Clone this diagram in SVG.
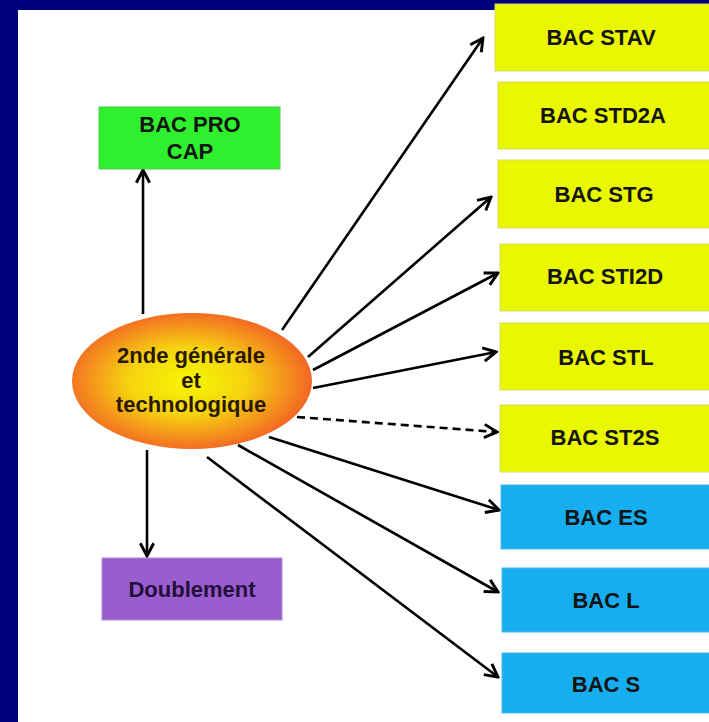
<svg xmlns="http://www.w3.org/2000/svg" width="709" height="722" viewBox="0 0 709 722">
<style>
.lbl{font-family:"Liberation Sans",Arial,sans-serif;font-weight:bold;font-size:22px;text-anchor:middle;fill:#141414}
.conn{stroke:#000;stroke-width:2.6;fill:none}
.yel{fill:#e9f700;stroke:#d6dc60;stroke-width:1}
.blu{fill:#17aef0;stroke:#4cb8e8;stroke-width:1}
</style>
<defs>
<marker id="arr" markerUnits="userSpaceOnUse" viewBox="0 0 14 14" refX="12.5" refY="7" markerWidth="17" markerHeight="17" orient="auto">
<path d="M2,1.5 L12.5,7 L2,12.5" fill="none" stroke="#000" stroke-width="2.4" stroke-linejoin="miter"/>
</marker>
<radialGradient id="eg" cx="0.48" cy="0.5" r="0.55">
<stop offset="0" stop-color="#f4f800"/>
<stop offset="0.45" stop-color="#f6d210"/>
<stop offset="1" stop-color="#f25a26"/>
</radialGradient>
</defs>
<rect x="0" y="0" width="709" height="722" fill="#00007f"/>
<rect x="18" y="10" width="691" height="712" fill="#ffffff"/>

<g id="connectors">
<line class="conn" x1="143" y1="314" x2="143" y2="170" marker-end="url(#arr)"/>
<line class="conn" x1="147" y1="450" x2="147" y2="556" marker-end="url(#arr)"/>
<line class="conn" x1="282" y1="330" x2="483" y2="38" marker-end="url(#arr)"/>
<line class="conn" x1="308" y1="357" x2="491" y2="197" marker-end="url(#arr)"/>
<line class="conn" x1="313" y1="370" x2="498" y2="273" marker-end="url(#arr)"/>
<line class="conn" x1="313" y1="388" x2="496" y2="352" marker-end="url(#arr)"/>
<line class="conn" x1="297" y1="417" x2="497" y2="432" stroke-dasharray="8,5" marker-end="url(#arr)"/>
<line class="conn" x1="269" y1="437" x2="499" y2="510" marker-end="url(#arr)"/>
<line class="conn" x1="238" y1="445" x2="498" y2="592" marker-end="url(#arr)"/>
<line class="conn" x1="207" y1="457" x2="498" y2="677" marker-end="url(#arr)"/>
</g>

<g id="center">
<ellipse cx="192" cy="381" rx="120" ry="68" fill="url(#eg)"/>
<text class="lbl" x="191" y="363" style="fill:#2a1800">2nde générale</text>
<text class="lbl" x="191" y="388" style="fill:#2a1800">et</text>
<text class="lbl" x="191" y="412" style="fill:#2a1800">technologique</text>
</g>

<g id="bacpro">
<rect x="99" y="107" width="181" height="62" fill="#2ef02e" stroke="#55c855" stroke-width="1"/>
<text class="lbl" x="190" y="132">BAC PRO</text>
<text class="lbl" x="190" y="159">CAP</text>
</g>

<g id="doublement">
<rect x="102" y="558" width="180" height="62" fill="#9a5ccf" stroke="#b08ad6" stroke-width="1"/>
<text class="lbl" x="192" y="597" style="fill:#22103a">Doublement</text>
</g>

<g id="stav">
<rect class="yel" x="495" y="4" width="216" height="67"/>
<text class="lbl" x="601" y="45">BAC STAV</text>
</g>
<g id="std2a">
<rect class="yel" x="498" y="82" width="213" height="67"/>
<text class="lbl" x="603" y="123">BAC STD2A</text>
</g>
<g id="stg">
<rect class="yel" x="498" y="160" width="213" height="68"/>
<text class="lbl" x="604" y="202">BAC STG</text>
</g>
<g id="sti2d">
<rect class="yel" x="500" y="244" width="211" height="67"/>
<text class="lbl" x="605" y="284">BAC STI2D</text>
</g>
<g id="stl">
<rect class="yel" x="500" y="323" width="211" height="67"/>
<text class="lbl" x="606" y="365">BAC STL</text>
</g>
<g id="st2s">
<rect class="yel" x="500" y="405" width="211" height="67"/>
<text class="lbl" x="605" y="445">BAC ST2S</text>
</g>
<g id="es">
<rect class="blu" x="501" y="485" width="210" height="64"/>
<text class="lbl" x="606" y="525">BAC ES</text>
</g>
<g id="l">
<rect class="blu" x="502" y="568" width="209" height="64"/>
<text class="lbl" x="606" y="608">BAC L</text>
</g>
<g id="s">
<rect class="blu" x="502" y="653" width="209" height="60"/>
<text class="lbl" x="606" y="692">BAC S</text>
</g>
</svg>
